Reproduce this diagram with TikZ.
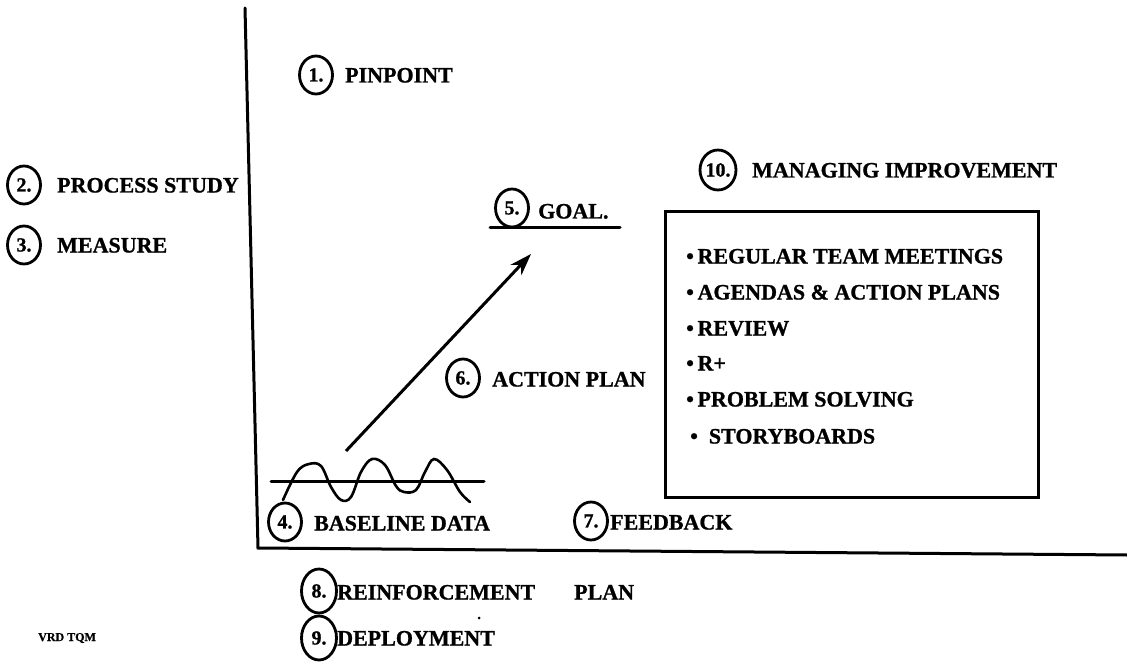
\documentclass[tikz,border=0pt]{standalone}
\usepackage{fontspec}
\setmainfont{Liberation Serif}[BoldFeatures={FakeBold=1}]
\usetikzlibrary{arrows.meta,shapes.geometric}
\begin{document}
\begin{tikzpicture}[x=1pt,y=-1pt,
  num/.style={draw, ellipse, line width=2.8pt, minimum width=33pt, minimum height=38pt, inner sep=0pt, font=\fontsize{20}{20}\selectfont\bfseries},
  bignum/.style={num, minimum width=35pt, minimum height=44pt},
  lbl/.style={anchor=west, inner sep=0pt, font=\fontsize{22}{22}\selectfont\bfseries, text height=15pt, text depth=0pt},
  small/.style={anchor=west, inner sep=0pt, font=\fontsize{12}{12}\selectfont\bfseries},
  heavy/.style={line width=3pt, line cap=round},
]
\useasboundingbox (0,0) rectangle (1127,663);

% axes
\coordinate (ytop) at (245,8);
\coordinate (orig) at (258,548);
\coordinate (xend) at (1127,555);
\draw[heavy, line join=miter] (ytop) -- (orig) -- (xend);

% step labels
\node[num] (c1) at (316,75) {1.};
\node[lbl] (t1) at (345,75) {PINPOINT};
\node[num] (c2) at (24,185) {2.};
\node[lbl] (t2) at (57,185) {PROCESS STUDY};
\node[num] (c3) at (24,245) {3.};
\node[lbl] (t3) at (57,245) {MEASURE};
\node[num] (c5) at (512,208) {5.};
\node[lbl] (t5) at (538,211) {GOAL.};
\node[num] (c6) at (463,378) {6.};
\node[lbl] (t6) at (492,379) {ACTION PLAN};
\node[num] (c4) at (285,522) {4.};
\node[lbl] (t4) at (314,523) {BASELINE DATA};
\node[num] (c7) at (591,521) {7.};
\node[lbl] (t7) at (610,522) {FEEDBACK};
\node[bignum] (c8) at (319,591) {8.};
\node[lbl] (t8) at (337,592) {REINFORCEMENT};
\node[lbl] (t8b) at (574,592) {PLAN};
\node[bignum] (c9) at (319,638) {9.};
\node[lbl] (t9) at (337,638) {DEPLOYMENT};
\node[num, minimum width=36pt, minimum height=40pt] (c10) at (718,170) {10.};
\node[lbl] (t10) at (752,170) {MANAGING IMPROVEMENT};
\node[small] (vrd) at (38,638) {VRD TQM};
\fill (479,618) circle (1.5pt);

% goal underline
\coordinate (gl) at (490,228);
\coordinate (gr) at (620,228);
\draw[heavy] (gl) -- (gr);

% baseline data wave
\coordinate (bl) at (271,481);
\coordinate (br) at (484,481);
\draw[heavy] (bl) -- (br);
\draw[line width=2.6pt, line cap=round] plot[smooth, tension=0.6] coordinates {
  (283,500) (297,472) (309,464) (321,466) (331,487) (341,500) (351,497)
  (361,472) (372,459) (385,465) (396,486) (404,492) (416,490)
  (425,472) (434,459) (447,470) (460,492) (470,502)};

% action plan arrow
\coordinate (as) at (346,451);
\coordinate (ae) at (531,254);
\draw[line width=3pt, -{Stealth[length=22pt,width=15pt]}] (as) -- (ae);

% managing improvement box
\node[draw, line width=3pt, minimum width=373pt, minimum height=285pt, inner sep=0pt] (box) at (851.5,354.5) {};
\node[lbl] (b1) at (686,256) {\textbullet\,REGULAR TEAM MEETINGS};
\node[lbl] (b2) at (686,292) {\textbullet\,AGENDAS \& ACTION PLANS};
\node[lbl] (b3) at (686,328) {\textbullet\,REVIEW};
\node[lbl] (b4) at (686,363) {\textbullet\,R+};
\node[lbl] (b5) at (686,399) {\textbullet\,PROBLEM SOLVING};
\node[lbl] (b6) at (690,436) {\textbullet\ \ STORYBOARDS};
\end{tikzpicture}
\end{document}
